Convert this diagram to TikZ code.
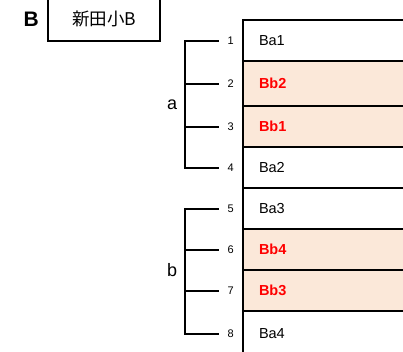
\documentclass[tikz,border=0pt]{standalone}
\usepackage{fontspec}
\setmainfont{Liberation Sans}
\newfontfamily\cjk{Noto Sans CJK JP}
\usetikzlibrary{positioning,calc}
\definecolor{peach}{HTML}{FBE8D9}
\definecolor{redtext}{HTML}{FF0000}

\begin{document}
\begin{tikzpicture}[
    x=1pt, y=-1pt,
    node distance=0pt,
    cell/.style={rectangle,draw,line width=1.5pt,outer sep=0pt,minimum height=41pt,text width=180pt,inner xsep=16pt,align=left,font=\fontsize{14.5}{16}\selectfont},
    hot/.style={cell,fill=peach,text=redtext,font=\fontsize{14.5}{16}\selectfont\bfseries},
    num/.style={inner sep=0pt,minimum width=24pt,font=\fontsize{11}{13}\selectfont},
    group/.style={font=\fontsize{18}{21}\selectfont},
    bracket/.style={line width=2pt}
]
\useasboundingbox (0,0) rectangle (403,351);
\clip (0,0) rectangle (403,351);

% Title
\node[draw,line width=1.5pt,minimum width=112pt,minimum height=44pt,font=\cjk\fontsize{17.5}{20}\selectfont] (title) at (104,19) {新田小B};
\node[left=5pt of title,font=\fontsize{21}{24}\selectfont\bfseries] (tag) {B};

% Rows
\node[cell,anchor=north west] (r1) at (243,20) {Ba1};
\node[hot,below=of r1,minimum height=45pt] (r2) {Bb2};
\node[hot,below=of r2] (r3) {Bb1};
\node[cell,below=of r3] (r4) {Ba2};
\node[cell,below=of r4] (r5) {Ba3};
\node[hot,below=of r5] (r6) {Bb4};
\node[hot,below=of r6] (r7) {Bb3};
\node[cell,below=of r7,minimum height=45pt] (r8) {Ba4};
\draw[line width=1.5pt] (r1.north west) -- (r8.south west);

% Numbers
\foreach \i in {1,...,8}
    \node[num,left=of r\i.west] (n\i) {\i};

% Group a
\draw[bracket] (n1.west) -- ++(-34,0) |- (n4.west);
\draw[bracket] (n2.west) -- ++(-34,0);
\draw[bracket] (n3.west) -- ++(-34,0);
\coordinate (amid) at ($(n2.west)!0.5!(n3.west)+(-34,0)$);
\node[group,left=4pt of amid] (a) {a};

% Group b
\draw[bracket] (n5.west) -- ++(-34,0) |- (n8.west);
\draw[bracket] (n6.west) -- ++(-34,0);
\draw[bracket] (n7.west) -- ++(-34,0);
\coordinate (bmid) at ($(n6.west)!0.5!(n7.west)+(-34,0)$);
\node[group,left=4pt of bmid] (b) {b};

\end{tikzpicture}
\end{document}
